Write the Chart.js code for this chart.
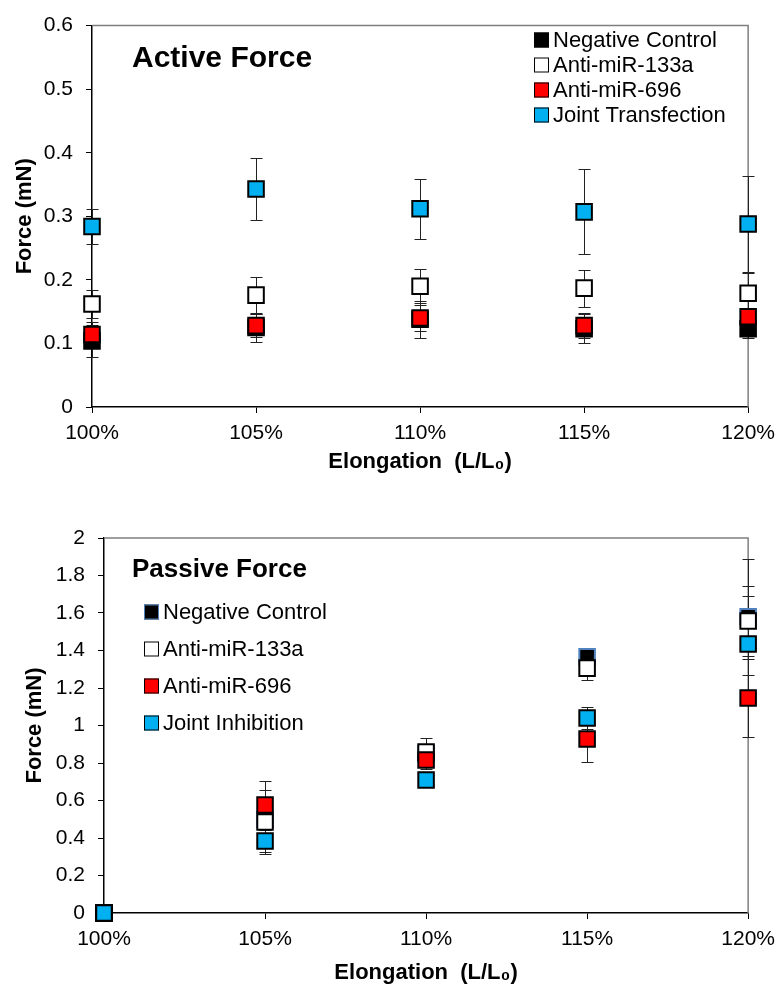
<!DOCTYPE html>
<html>
<head>
<meta charset="utf-8">
<script src="https://cdn.jsdelivr.net/npm/chart.js@4/dist/chart.umd.min.js"></script>
<style>
  body { margin: 0; background: #fff; }
  canvas { position: absolute; left: 0; }
</style>
</head>
<body>
<canvas id="active" width="783" height="490" style="top:0"></canvas>
<canvas id="passive" width="783" height="497" style="top:490px"></canvas>
<script>
// x positions (elongation, %)
const elongation = [100, 105, 110, 115, 120];

// Active force (mN) and error bars
const activeNegative = [0.104, 0.125, 0.138, 0.123, 0.123];
const activeNegativeErr = [0.025, 0.023, 0.029, 0.023, 0.014];
const active133a = [0.162, 0.176, 0.190, 0.187, 0.179];
const active133aErr = [0.022, 0.029, 0.027, 0.029, 0.032];
const active696 = [0.114, 0.128, 0.140, 0.128, 0.142];
const active696Err = [0.020, 0.018, 0.020, 0.020, 0.014];
const activeJoint = [0.284, 0.343, 0.312, 0.307, 0.288];
const activeJointErr = [0.028, 0.049, 0.047, 0.067, 0.075];

// Passive force (mN) and error bars
const passiveNegative = [0, 0.50, 0.85, 1.366, 1.58];
const passiveNegativeErr = [0, 0.05, 0.05, 0.04, 0.31];
const passive133a = [0, 0.485, 0.859, 1.306, 1.557];
const passive133aErr = [0, 0.17, 0.074, 0.063, 0.187];
const passive696 = [0, 0.576, 0.816, 0.928, 1.147];
const passive696Err = [0, 0.13, 0.05, 0.12, 0.21];
const passiveJoint = [0, 0.384, 0.709, 1.04, 1.435];
const passiveJointErr = [0, 0.06, 0.03, 0.06, 0.255];

const FONT = "'Liberation Sans', Arial, sans-serif";

function series(label, values, errors, fill, border, order) {
  return {
    label: label,
    data: values.map((v, i) => ({ x: elongation[i], y: v })),
    errors: errors,
    backgroundColor: fill,
    borderColor: border,
    borderWidth: 2,
    pointStyle: 'rect',
    pointRadius: 11,
    pointHoverRadius: 11,
    showLine: false,
    clip: false,
    order: order
  };
}

// error bars, drawn under the markers
const errorBars = {
  id: 'errorBars',
  beforeDatasetsDraw(chart) {
    const ctx = chart.ctx;
    const xs = chart.scales.x, ys = chart.scales.y;
    ctx.save();
    ctx.strokeStyle = '#222';
    ctx.lineWidth = 1;
    chart.data.datasets.forEach(ds => {
      ds.data.forEach((p, i) => {
        const e = ds.errors[i];
        if (!e) return;
        const x = Math.round(xs.getPixelForValue(p.x)) + 0.5;
        const y1 = Math.round(ys.getPixelForValue(p.y + e)) + 0.5;
        const y2 = Math.round(ys.getPixelForValue(p.y - e)) + 0.5;
        ctx.beginPath();
        ctx.moveTo(x, y1); ctx.lineTo(x, y2);
        ctx.moveTo(x - 6, y1); ctx.lineTo(x + 6, y1);
        ctx.moveTo(x - 6, y2); ctx.lineTo(x + 6, y2);
        ctx.stroke();
      });
    });
    ctx.restore();
  }
};

// top and right frame lines
const frame = {
  id: 'frame',
  beforeDatasetsDraw(chart) {
    const { ctx, chartArea: a } = chart;
    ctx.save();
    ctx.strokeStyle = '#7f7f7f';
    ctx.lineWidth = 1.5;
    ctx.beginPath();
    ctx.moveTo(a.left, a.top);
    ctx.lineTo(a.right, a.top);
    ctx.lineTo(a.right, a.bottom);
    ctx.stroke();
    ctx.restore();
  }
};

// in-plot title and legend
const annotations = {
  id: 'annotations',
  afterDatasetsDraw(chart, args, opts) {
    const ctx = chart.ctx;
    ctx.save();
    ctx.fillStyle = '#000';
    ctx.textBaseline = 'middle';
    ctx.font = 'bold ' + opts.titleSize + 'px ' + FONT;
    ctx.fillText(opts.title, opts.titleX, opts.titleY);
    ctx.font = '22px ' + FONT;
    chart.data.datasets.forEach((ds, i) => {
      const y = opts.legendY + i * opts.legendGap;
      ctx.fillStyle = ds.backgroundColor;
      ctx.fillRect(opts.legendX, y - 7.5, 15, 15);
      ctx.strokeStyle = ds.borderColor;
      ctx.lineWidth = 1;
      ctx.strokeRect(opts.legendX + 0.5, y - 7, 14, 14);
      ctx.fillStyle = '#000';
      ctx.fillText(ds.label, opts.legendX + 19, y + 1);
    });
    ctx.restore();
  }
};

function makeChart(id, datasets, yMax, yStep, axisLeft, axisBottom, pad, yTitlePad, xTitlePad, ann) {
  return new Chart(document.getElementById(id), {
    type: 'scatter',
    data: { datasets: datasets },
    plugins: [frame, errorBars, annotations],
    options: {
      responsive: false,
      animation: false,
      devicePixelRatio: 1,
      layout: { padding: pad },
      plugins: {
        legend: { display: false },
        tooltip: { enabled: false },
        annotations: ann
      },
      scales: {
        x: {
          type: 'linear',
          min: 100,
          max: 120,
          afterFit: s => { s.height = axisBottom; },
          ticks: {
            stepSize: 5,
            maxRotation: 0,
            padding: 8,
            color: '#000',
            font: { family: FONT, size: 21 },
            callback: v => v + '%'
          },
          grid: { drawOnChartArea: false, tickLength: 6, color: '#000' },
          border: { color: '#000', width: 1.5 },
          title: {
            display: true,
            text: 'Elongation  (L/L\u2080)',
            color: '#000',
            font: { family: FONT, size: 22, weight: 'bold' },
            padding: { top: 0, bottom: xTitlePad }
          }
        },
        y: {
          min: 0,
          max: yMax,
          afterFit: s => { s.width = axisLeft; },
          ticks: {
            stepSize: yStep,
            padding: 13,
            color: '#000',
            font: { family: FONT, size: 21 },
            callback: v => String(+v.toFixed(1))
          },
          grid: { drawOnChartArea: false, tickLength: 6, color: '#000' },
          border: { color: '#000', width: 1.5 },
          title: {
            display: true,
            text: 'Force (mN)',
            color: '#000',
            font: { family: FONT, size: 22, weight: 'bold' },
            padding: { top: yTitlePad, bottom: 0 }
          }
        }
      }
    }
  });
}

makeChart('active', [
  series('Negative Control', activeNegative, activeNegativeErr, '#000', '#000', 3),
  series('Anti-miR-133a', active133a, active133aErr, '#fff', '#000', 2),
  series('Anti-miR-696', active696, active696Err, '#ff0000', '#000', 1),
  series('Joint Transfection', activeJoint, activeJointErr, '#00b0f0', '#000', 0)
], 0.6, 0.1, 92, 83, { top: 22, right: 30, left: 0, bottom: 0 }, 12, 15, {
  title: 'Active Force', titleSize: 30, titleX: 132, titleY: 59,
  legendX: 534, legendY: 40, legendGap: 25
});

makeChart('passive', [
  series('Negative Control', passiveNegative, passiveNegativeErr, '#000', '#4f81bd', 3),
  series('Anti-miR-133a', passive133a, passive133aErr, '#fff', '#000', 2),
  series('Anti-miR-696', passive696, passive696Err, '#ff0000', '#000', 1),
  series('Joint Inhibition', passiveJoint, passiveJointErr, '#00b0f0', '#000', 0)
], 2, 0.2, 104, 74, { top: 48, right: 34, left: 0, bottom: 0 }, 22, 1, {
  title: 'Passive Force', titleSize: 26, titleX: 132, titleY: 80,
  legendX: 144, legendY: 122, legendGap: 37
});
</script>
</body>
</html>
